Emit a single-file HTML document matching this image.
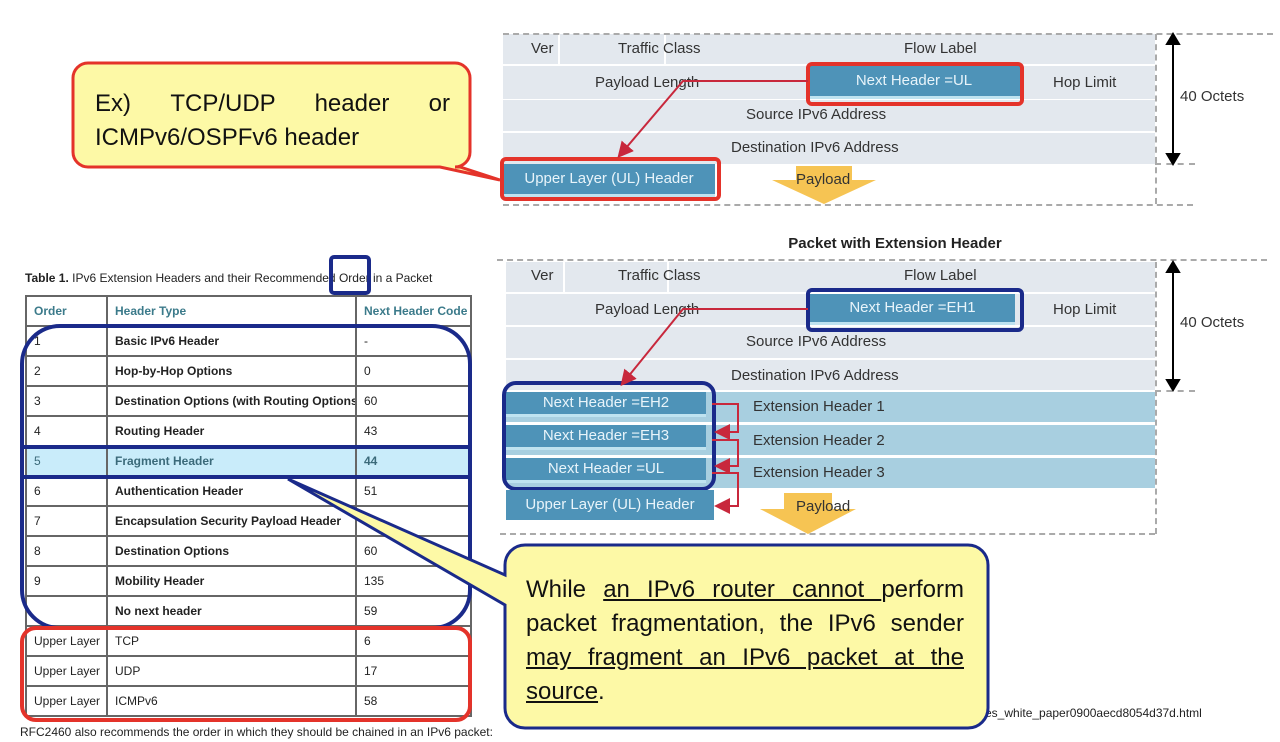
<!DOCTYPE html>
<html><head><meta charset="utf-8"><style>
body{margin:0;width:1280px;height:742px;background:#fff;position:relative;overflow:hidden;font-family:"Liberation Sans",sans-serif}
.a{position:absolute}
.g{background:#e3e8ee}
.t{position:absolute;font-size:15px;color:#333;white-space:nowrap}
.nh{position:absolute;background:#4e93b8;color:#e8f4fa;font-size:15px;text-align:center;border-bottom:3px solid #bfe3f0}
table{border-collapse:collapse;position:absolute;left:25px;top:295px;font-size:12px;color:#222;table-layout:fixed;width:445px}
tr{height:30px}
td{border:2px solid #666;padding:0 0 0 7px;white-space:nowrap;overflow:hidden}
td b{font-weight:bold}
.hd td{color:#3b7a8a;font-weight:bold}
</style></head><body>
<div class="a g" style="left:503px;top:34px;width:652px;height:30px"></div>
<div class="a g" style="left:503px;top:66px;width:652px;height:33px"></div>
<div class="a g" style="left:503px;top:100px;width:652px;height:31px"></div>
<div class="a g" style="left:503px;top:133px;width:652px;height:31px"></div>
<div class="a" style="left:558px;top:34px;width:2px;height:30px;background:#fff"></div>
<div class="a" style="left:664px;top:34px;width:2px;height:30px;background:#fff"></div>
<div class="a" style="left:503px;top:33px;width:770px;border-top:2px dashed #aaa"></div>
<div class="a" style="left:503px;top:204px;width:690px;border-top:2px dashed #aaa"></div>
<div class="a" style="left:1155px;top:34px;height:170px;border-left:2px dashed #aaa"></div>
<div class="a" style="left:1155px;top:163px;width:40px;border-top:2px dashed #aaa"></div>
<span class="t" style="left:531px;top:40px">Ver</span>
<span class="t" style="left:618px;top:40px">Traffic Class</span>
<span class="t" style="left:904px;top:40px">Flow Label</span>
<span class="t" style="left:595px;top:74px">Payload Length</span>
<span class="t" style="left:1053px;top:74px">Hop Limit</span>
<span class="t" style="left:746px;top:106px">Source IPv6 Address</span>
<span class="t" style="left:731px;top:139px">Destination IPv6 Address</span>
<div class="nh" style="left:808px;top:66px;width:212px;height:30px;line-height:30px">Next Header =UL</div>
<div class="a" style="left:806px;top:62px;width:210px;height:36px;border:4px solid #e4332a;border-radius:6px"></div>
<div class="nh" style="left:503px;top:164px;width:212px;height:30px;line-height:30px">Upper Layer (UL) Header</div>
<div class="a" style="left:500px;top:157px;width:213px;height:36px;border:4px solid #e4332a;border-radius:6px"></div>
<span class="t" style="left:1180px;top:88px">40 Octets</span>
<div class="a" style="left:500px;top:235px;width:650px;text-align:center;font-weight:bold;font-size:15px;color:#222;padding-left:140px;box-sizing:border-box">Packet with Extension Header</div>
<div class="a g" style="left:506px;top:262px;width:649px;height:30px"></div>
<div class="a g" style="left:506px;top:294px;width:649px;height:31px"></div>
<div class="a g" style="left:506px;top:327px;width:649px;height:31px"></div>
<div class="a g" style="left:506px;top:360px;width:649px;height:30px"></div>
<div class="a" style="left:506px;top:392px;width:649px;height:30px;background:#a8cfe0"></div>
<div class="a" style="left:506px;top:425px;width:649px;height:30px;background:#a8cfe0"></div>
<div class="a" style="left:506px;top:458px;width:649px;height:30px;background:#a8cfe0"></div>
<div class="a" style="left:563px;top:262px;width:2px;height:30px;background:#fff"></div>
<div class="a" style="left:667px;top:262px;width:2px;height:30px;background:#fff"></div>
<div class="a" style="left:497px;top:259px;width:770px;border-top:2px dashed #aaa"></div>
<div class="a" style="left:500px;top:533px;width:655px;border-top:2px dashed #aaa"></div>
<div class="a" style="left:1155px;top:262px;height:272px;border-left:2px dashed #aaa"></div>
<div class="a" style="left:1155px;top:390px;width:40px;border-top:2px dashed #aaa"></div>
<span class="t" style="left:531px;top:267px">Ver</span>
<span class="t" style="left:618px;top:267px">Traffic Class</span>
<span class="t" style="left:904px;top:267px">Flow Label</span>
<span class="t" style="left:595px;top:301px">Payload Length</span>
<span class="t" style="left:1053px;top:301px">Hop Limit</span>
<span class="t" style="left:746px;top:333px">Source IPv6 Address</span>
<span class="t" style="left:731px;top:367px">Destination IPv6 Address</span>
<span class="t" style="left:753px;top:398px">Extension Header 1</span>
<span class="t" style="left:753px;top:432px">Extension Header 2</span>
<span class="t" style="left:753px;top:464px">Extension Header 3</span>
<div class="nh" style="left:810px;top:294px;width:205px;height:28px;line-height:28px">Next Header =EH1</div>
<div class="a" style="left:806px;top:288px;width:210px;height:36px;border:4px solid #1a2a8a;border-radius:6px"></div>
<div class="nh" style="left:506px;top:392px;width:200px;height:22px;line-height:22px">Next Header =EH2</div>
<div class="nh" style="left:506px;top:425px;width:200px;height:22px;line-height:22px">Next Header =EH3</div>
<div class="nh" style="left:506px;top:458px;width:200px;height:22px;line-height:22px">Next Header =UL</div>
<div class="a" style="left:502px;top:381px;width:206px;height:102px;border:4px solid #1a2a8a;border-radius:14px"></div>
<div class="nh" style="left:506px;top:490px;width:208px;height:30px;line-height:30px;border:none">Upper Layer (UL) Header</div>
<span class="t" style="left:1180px;top:314px">40 Octets</span>
<svg class="a" style="left:0;top:0" width="1280" height="742">
<defs><marker id="r" markerWidth="8" markerHeight="8" refX="6" refY="4" orient="auto"><path d="M0,0L8,4L0,8z" fill="#c8283c"/></marker></defs>
<g stroke="#000" stroke-width="2" fill="#000">
<line x1="1173" y1="42" x2="1173" y2="156"/><path d="M1167,44L1173,34L1179,44z"/><path d="M1167,154L1173,164L1179,154z"/>
<line x1="1173" y1="270" x2="1173" y2="382"/><path d="M1167,272L1173,262L1179,272z"/><path d="M1167,380L1173,390L1179,380z"/>
</g>
<g stroke="#c8283c" stroke-width="2" fill="none" marker-end="url(#r)">
<polyline points="808,81 683,81 620,155"/>
<polyline points="808,309 683,309 623,383"/>
<polyline points="712,404 738,404 738,432 718,432"/>
<polyline points="712,440 738,440 738,466 718,466"/>
<polyline points="712,473 738,473 738,506 718,506"/>
</g>
<g fill="#f6c453"><path d="M796,166h56v14h24l-52,24l-52,-24h24z"/><path d="M784,493h48v16h24l-48,25l-48,-25h24z"/></g>
<text x="796" y="184" font-family="Liberation Sans" font-size="15" fill="#333">Payload</text>
<text x="796" y="511" font-family="Liberation Sans" font-size="15" fill="#333">Payload</text>
<path d="M88,63H455a15,15 0 0 1 15,15V152a15,15 0 0 1 -15,15H460L500,180L440,167H88a15,15 0 0 1 -15,-15V78a15,15 0 0 1 15,-15z" fill="#fdf9a6" stroke="#e4332a" stroke-width="3"/>
</svg>
<div class="a" style="left:95px;top:87px;width:355px;font-size:24px;color:#111;text-align:justify;text-align-last:left;line-height:34px">Ex) &nbsp;&nbsp;TCP/UDP &nbsp;&nbsp;header &nbsp;&nbsp;or ICMPv6/OSPFv6 header</div>
<div class="a" style="left:25px;top:271px;font-size:12px;color:#222"><b>Table 1.</b> IPv6 Extension Headers and their Recommended Order in a Packet</div>
<table>
<colgroup><col style="width:81px"><col style="width:249px"><col style="width:115px"></colgroup>
<tr class="hd"><td>Order</td><td>Header Type</td><td>Next Header Code</td></tr>
<tr><td>1</td><td><b>Basic IPv6 Header</b></td><td>-</td></tr>
<tr><td>2</td><td><b>Hop-by-Hop Options</b></td><td>0</td></tr>
<tr><td>3</td><td><b>Destination Options (with Routing Options)</b></td><td>60</td></tr>
<tr><td>4</td><td><b>Routing Header</b></td><td>43</td></tr>
<tr style="background:#c9ecfa;color:#3b6a7a"><td>5</td><td><b>Fragment Header</b></td><td><b>44</b></td></tr>
<tr><td>6</td><td><b>Authentication Header</b></td><td>51</td></tr>
<tr><td>7</td><td><b>Encapsulation Security Payload Header</b></td><td>50</td></tr>
<tr><td>8</td><td><b>Destination Options</b></td><td>60</td></tr>
<tr><td>9</td><td><b>Mobility Header</b></td><td>135</td></tr>
<tr><td></td><td><b>No next header</b></td><td>59</td></tr>
<tr><td>Upper Layer</td><td>TCP</td><td>6</td></tr>
<tr><td>Upper Layer</td><td>UDP</td><td>17</td></tr>
<tr><td>Upper Layer</td><td>ICMPv6</td><td>58</td></tr>
</table>
<div class="a" style="left:20px;top:725px;font-size:12px;color:#222">RFC2460 also recommends the order in which they should be chained in an IPv6 packet:</div>
<div class="a" style="left:985px;top:706px;font-size:12px;color:#222">es_white_paper0900aecd8054d37d.html</div>
<svg class="a" style="left:0;top:0" width="1280" height="742">
<rect x="331" y="257" width="38" height="36" rx="3" fill="none" stroke="#1a2a8a" stroke-width="4"/>
<rect x="22" y="326" width="448" height="302" rx="38" fill="none" stroke="#1a2a8a" stroke-width="4"/>
<rect x="22" y="447" width="448" height="30" fill="none" stroke="#1a2a8a" stroke-width="4"/>
<rect x="22" y="628" width="448" height="92" rx="14" fill="none" stroke="#e4332a" stroke-width="4"/>
<path d="M525,545H968a20,20 0 0 1 20,20V708a20,20 0 0 1 -20,20H525a20,20 0 0 1 -20,-20V605L288,479L505,575V565a20,20 0 0 1 20,-20z" fill="#fdf9a6" stroke="#1a2a8a" stroke-width="3"/>
</svg>
<div class="a" style="left:526px;top:573px;width:438px;font-size:24px;line-height:34px;color:#111;text-align:justify">While <u>an IPv6 router cannot </u>perform packet fragmentation, the IPv6 sender <u>may fragment an IPv6 packet at the source</u>.</div>
</body></html>
